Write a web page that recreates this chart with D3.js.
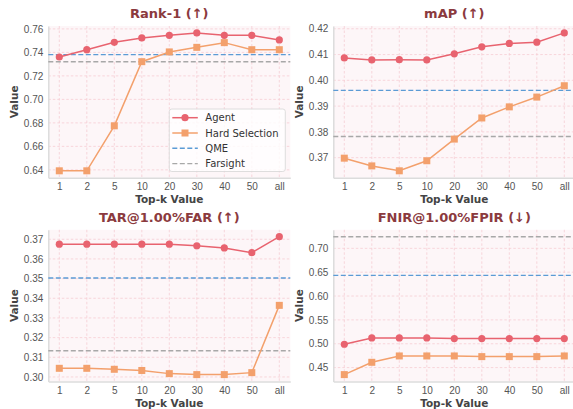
<!DOCTYPE html>
<html>
<head>
<meta charset="utf-8">
<script src="https://cdn.jsdelivr.net/npm/d3@7/dist/d3.min.js"></script>
<style>
  body { margin: 0; background: #fff; }
  svg { font-family: "DejaVu Sans", sans-serif; }
</style>
</head>
<body>
<div id="chart-area"></div>
<script>
// SVG size
const width = 573,
	height = 409;

// Data
const topK = ["1", "2", "5", "10", "20", "30", "40", "50", "all"];

const rankAgent = [0.7361, 0.7423, 0.7486, 0.7523, 0.7545, 0.7566, 0.7545, 0.7545, 0.7506];
const rankHard = [0.6392, 0.6392, 0.6775, 0.7321, 0.7404, 0.7443, 0.7483, 0.7423, 0.7423];
const rankQME = 0.7381, rankFarsight = 0.7321;
const rankTicks = [0.64, 0.66, 0.68, 0.70, 0.72, 0.74, 0.76];

const mapAgent = [0.4087, 0.4079, 0.4080, 0.4079, 0.4103, 0.4130, 0.4143, 0.4148, 0.4184];
const mapHard = [0.3698, 0.3668, 0.3649, 0.3688, 0.3772, 0.3854, 0.3897, 0.3935, 0.3979];
const mapQME = 0.3961, mapFarsight = 0.3782;
const mapTicks = [0.37, 0.38, 0.39, 0.40, 0.41, 0.42];

const tarAgent = [0.3675, 0.3675, 0.3675, 0.3675, 0.3675, 0.3667, 0.3656, 0.3632, 0.3713];
const tarHard = [0.3044, 0.3044, 0.3039, 0.3033, 0.3017, 0.3012, 0.3012, 0.3022, 0.3364];
const tarQME = 0.3503, tarFarsight = 0.3133;
const tarTicks = [0.30, 0.31, 0.32, 0.33, 0.34, 0.35, 0.36, 0.37];

const fnirAgent = [0.4989, 0.5122, 0.5122, 0.5122, 0.5109, 0.5109, 0.5109, 0.5109, 0.5109];
const fnirHard = [0.4353, 0.4611, 0.4744, 0.4744, 0.4744, 0.4730, 0.4730, 0.4730, 0.4744];
const fnirQME = 0.6433, fnirFarsight = 0.7244;
const fnirTicks = [0.45, 0.50, 0.55, 0.60, 0.65, 0.70];

const panels = [
	{title: "Rank-1 (↑)", agent: rankAgent, hard: rankHard, qme: rankQME, farsight: rankFarsight, ticks: rankTicks, x: 48.3, y: 26, legend: true},
	{title: "mAP (↑)", agent: mapAgent, hard: mapHard, qme: mapQME, farsight: mapFarsight, ticks: mapTicks, x: 333.3, y: 26},
	{title: "TAR@1.00%FAR (↑)", agent: tarAgent, hard: tarHard, qme: tarQME, farsight: tarFarsight, ticks: tarTicks, x: 48.3, y: 229.8},
	{title: "FNIR@1.00%FPIR (↓)", agent: fnirAgent, hard: fnirHard, qme: fnirQME, farsight: fnirFarsight, ticks: fnirTicks, x: 333.3, y: 229.8}
];

const plotW = 242,
	plotH = 151.7;

const colors = {agent: "#e8636f", hard: "#f3a06c", qme: "#5b9bd5", farsight: "#a8a8a8"};

const svg = d3.select("#chart-area")
	.append("svg")
	.attr("width", width)
	.attr("height", height);

panels.forEach(p => drawPanel(p));

function drawPanel(p) {
	const g = svg.append("g").attr("transform", "translate(" + p.x + "," + p.y + ")");

	// x: category index with matplotlib-style 5% margins
	const xScale = d3.scaleLinear()
		.domain([-0.4, topK.length - 1 + 0.4])
		.range([0, plotW]);

	// y: include data and reference lines, pad 5%
	const all = p.agent.concat(p.hard, [p.qme, p.farsight]);
	const lo = d3.min(all), hi = d3.max(all), pad = (hi - lo) * 0.05;
	const yScale = d3.scaleLinear()
		.domain([lo - pad, hi + pad])
		.range([plotH, 0]);

	// background
	g.append("rect")
		.attr("width", plotW)
		.attr("height", plotH)
		.attr("fill", "#fdf6f8");

	// grid
	g.append("g")
		.selectAll("line")
		.data(topK.map((d, i) => i))
		.enter()
		.append("line")
		.attr("x1", d => xScale(d))
		.attr("x2", d => xScale(d))
		.attr("y1", 0)
		.attr("y2", plotH)
		.attr("stroke", "#f6cdd3")
		.attr("stroke-width", 0.8)
		.attr("stroke-dasharray", "2.5,2");

	g.append("g")
		.selectAll("line")
		.data(p.ticks)
		.enter()
		.append("line")
		.attr("x1", 0)
		.attr("x2", plotW)
		.attr("y1", d => yScale(d))
		.attr("y2", d => yScale(d))
		.attr("stroke", "#f6cdd3")
		.attr("stroke-width", 0.8)
		.attr("stroke-dasharray", "2.5,2");

	// axes
	const xAxis = d3.axisBottom(xScale)
		.tickValues(topK.map((d, i) => i))
		.tickFormat(i => topK[i])
		.tickSize(0)
		.tickPadding(5);
	const yAxis = d3.axisLeft(yScale)
		.tickValues(p.ticks)
		.tickFormat(d3.format(".2f"))
		.tickSize(0)
		.tickPadding(5);

	const gx = g.append("g")
		.attr("transform", "translate(0," + plotH + ")")
		.call(xAxis);
	const gy = g.append("g").call(yAxis);

	[gx, gy].forEach(a => {
		a.select(".domain").attr("stroke", "#dcdcdc").attr("stroke-width", 1.5);
		a.selectAll("text").attr("fill", "#555").style("font-size", "10px");
	});

	// reference lines
	g.append("line")
		.attr("x1", 0).attr("x2", plotW)
		.attr("y1", yScale(p.qme)).attr("y2", yScale(p.qme))
		.attr("stroke", colors.qme)
		.attr("stroke-width", 1.4)
		.attr("stroke-dasharray", "5,2.5");
	g.append("line")
		.attr("x1", 0).attr("x2", plotW)
		.attr("y1", yScale(p.farsight)).attr("y2", yScale(p.farsight))
		.attr("stroke", colors.farsight)
		.attr("stroke-width", 1.4)
		.attr("stroke-dasharray", "5,2.5");

	const line = d3.line()
		.x((d, i) => xScale(i))
		.y(d => yScale(d));

	// Hard Selection
	g.append("path")
		.datum(p.hard)
		.attr("d", line)
		.attr("fill", "none")
		.attr("stroke", colors.hard)
		.attr("stroke-width", 1.5);
	g.selectAll(".sq")
		.data(p.hard)
		.enter()
		.append("rect")
		.attr("class", "sq")
		.attr("x", (d, i) => xScale(i) - 3.5)
		.attr("y", d => yScale(d) - 3.5)
		.attr("width", 7)
		.attr("height", 7)
		.attr("fill", colors.hard);

	// Agent
	g.append("path")
		.datum(p.agent)
		.attr("d", line)
		.attr("fill", "none")
		.attr("stroke", colors.agent)
		.attr("stroke-width", 1.5);
	g.selectAll(".dot")
		.data(p.agent)
		.enter()
		.append("circle")
		.attr("class", "dot")
		.attr("cx", (d, i) => xScale(i))
		.attr("cy", d => yScale(d))
		.attr("r", 3.6)
		.attr("fill", colors.agent);

	// title
	g.append("text")
		.attr("x", plotW / 2)
		.attr("y", -8)
		.attr("text-anchor", "middle")
		.attr("fill", "#8b3a3e")
		.style("font-size", "13px")
		.style("font-weight", "bold")
		.text(p.title);

	// axis labels
	g.append("text")
		.attr("x", plotW / 2)
		.attr("y", plotH + 25.5)
		.attr("text-anchor", "middle")
		.attr("fill", "#444")
		.style("font-size", "10.5px")
		.style("font-weight", "bold")
		.text("Top-k Value");
	g.append("text")
		.attr("transform", "rotate(-90)")
		.attr("x", -plotH / 2)
		.attr("y", -30)
		.attr("text-anchor", "middle")
		.attr("fill", "#444")
		.style("font-size", "10.5px")
		.style("font-weight", "bold")
		.text("Value");

	if (p.legend) drawLegend(g);
}

function drawLegend(g) {
	const items = [
		{name: "Agent", color: colors.agent, marker: "circle"},
		{name: "Hard Selection", color: colors.hard, marker: "square"},
		{name: "QME", color: colors.qme, dash: true},
		{name: "Farsight", color: colors.farsight, dash: true}
	];
	const lg = g.append("g").attr("transform", "translate(121,83)");
	lg.append("rect")
		.attr("width", 116)
		.attr("height", 62.5)
		.attr("rx", 2.5)
		.attr("fill", "#fff")
		.attr("fill-opacity", 0.8)
		.attr("stroke", "#d6d6d6")
		.attr("stroke-width", 0.8);
	items.forEach((it, i) => {
		const y = 8.7 + i * 15.3;
		lg.append("line")
			.attr("x1", 3).attr("x2", 28.5)
			.attr("y1", y).attr("y2", y)
			.attr("stroke", it.color)
			.attr("stroke-width", it.dash ? 1.4 : 1.5)
			.attr("stroke-dasharray", it.dash ? "5,2.5" : null);
		if (it.marker === "circle") {
			lg.append("circle").attr("cx", 15.7).attr("cy", y).attr("r", 3.6).attr("fill", it.color);
		} else if (it.marker === "square") {
			lg.append("rect").attr("x", 12.2).attr("y", y - 3.5).attr("width", 7).attr("height", 7).attr("fill", it.color);
		}
		lg.append("text")
			.attr("x", 36)
			.attr("y", y)
			.attr("dy", "0.35em")
			.attr("fill", "#333")
			.style("font-size", "10px")
			.text(it.name);
	});
}
</script>
</body>
</html>
